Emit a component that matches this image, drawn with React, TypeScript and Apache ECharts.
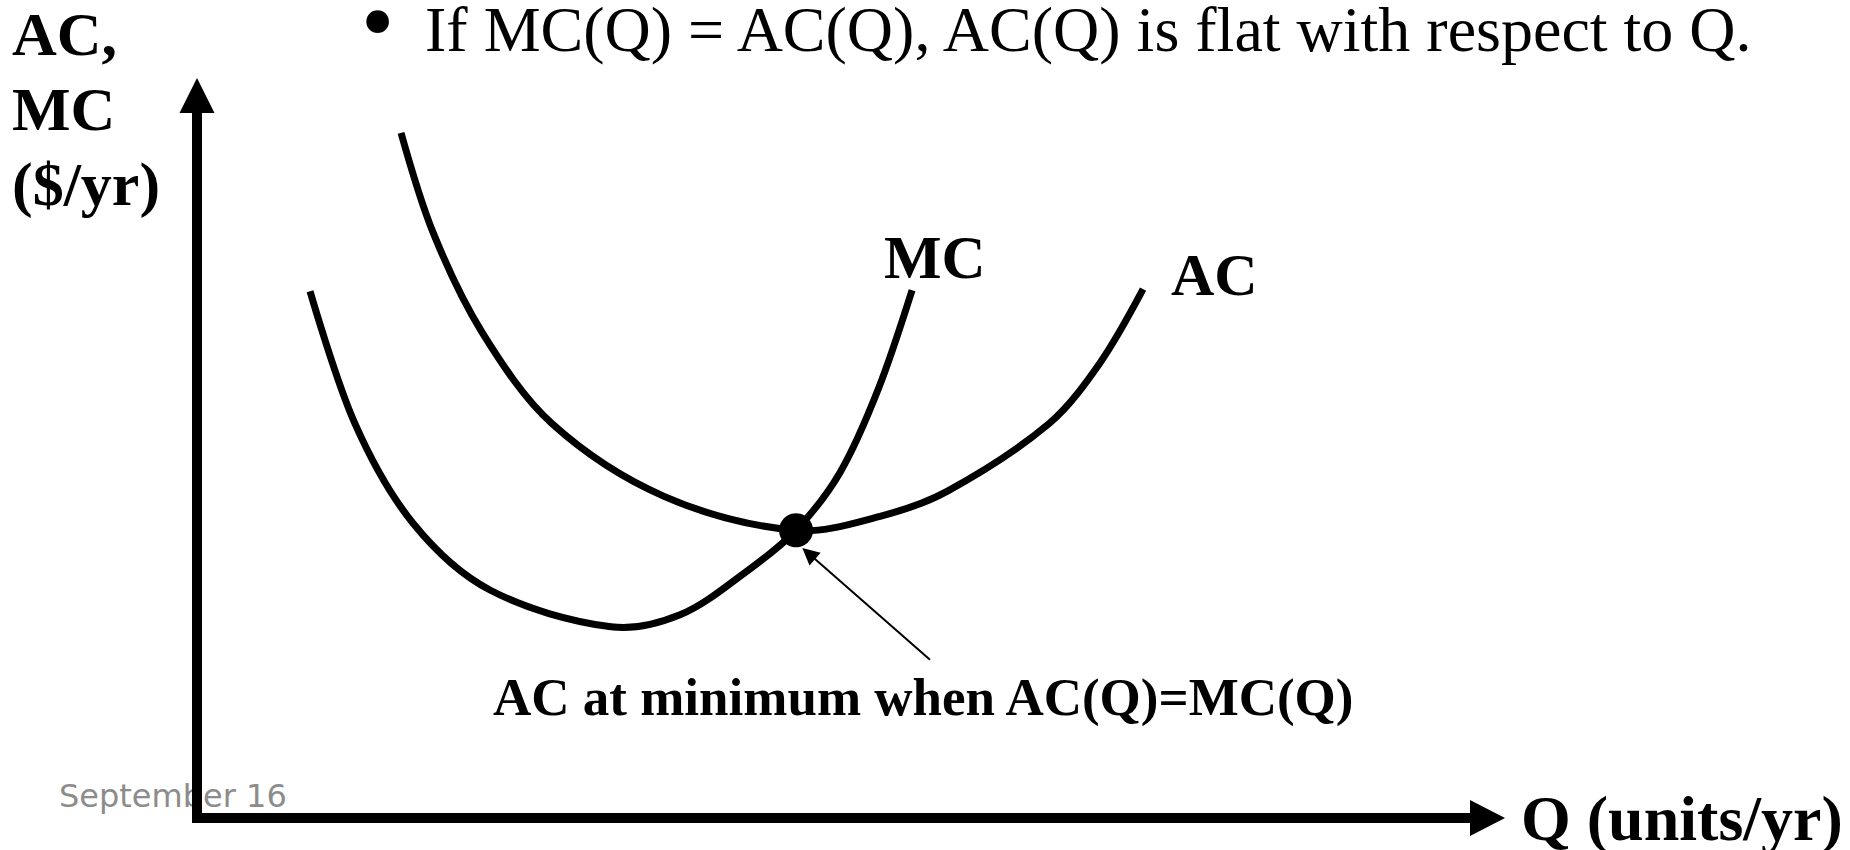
import React, { useEffect, useRef } from "react";
import * as echarts from "echarts";

// Marginal cost curve (Q, $/yr)
const mcQ = [8.76, 12.24, 16.74, 22.7, 32.08, 37.43, 42.62, 46.42, 49.83, 52.77, 55.41];
const mcCost = [72.91, 54.58, 40.8, 31.56, 26.46, 28.12, 34.18, 39.83, 47.83, 59.27, 73.05];

// Average cost curve
const acQ = [15.81, 18.29, 22.08, 27.51, 36.19, 46.42, 52.93, 58.12, 66.02, 69.97, 73.31];
const acCost = [94.83, 81.05, 67.26, 54.58, 44.52, 39.8, 41.76, 45.21, 54.58, 62.99, 73.19];

// Point where AC = MC, and the pointer to it
const equalPoint = [46.42, 39.83];
const pointerFrom = [56.8, 21.9];
const pointerTo = [47.4, 36.6];

// Texts
const titleText = "If MC(Q) = AC(Q), AC(Q) is flat with respect to Q.";
const bulletText = "\u2022";
const yAxisTitle = "AC,\nMC\n($/yr)";
const xAxisTitle = "Q (units/yr)";
const mcLabel = "MC";
const acLabel = "AC";
const noteText = "AC at minimum when AC(Q)=MC(Q)";
const footerText = "September 16";

const serif = "'Liberation Serif', 'Times New Roman', serif";

function curveSeries(name: string, qs: number[], costs: number[]) {
  const data = qs.map((q, i) => [q, costs[i]]);
  return {
    type: "custom",
    name,
    coordinateSystem: "cartesian2d",
    data,
    encode: { x: 0, y: 1 },
    silent: true,
    z: 3,
    renderItem: (params: any, api: any) => {
      if (params.dataIndex !== 0) return { type: "group", children: [] };
      const points = data.map((d) => api.coord(d));
      return {
        type: "polyline",
        shape: { points, smooth: 0.33, smoothConstraint: false },
        style: { stroke: "#000000", lineWidth: 7, fill: "none" },
        silent: true,
      };
    },
  };
}

export default function App() {
  const ref = useRef<HTMLDivElement>(null);

  useEffect(() => {
    const chart = echarts.init(ref.current as HTMLDivElement, null, { renderer: "svg" });

    const axisCommon = {
      type: "value",
      min: 0,
      max: 100,
      axisTick: { show: false },
      axisLabel: { show: false },
      splitLine: { show: false },
    };

    chart.setOption({
      animation: false,
      backgroundColor: "#ffffff",
      grid: { left: 197, right: 362.5, top: 95.5, bottom: 29 },
      xAxis: {
        ...axisCommon,
        axisLine: {
          show: true,
          onZero: false,
          symbol: ["none", "triangle"],
          symbolSize: [36, 35],
          lineStyle: { color: "#000000", width: 10, cap: "square" },
        },
        name: xAxisTitle,
        nameLocation: "end",
        nameGap: 33.5,
        nameTextStyle: {
          fontFamily: serif,
          fontWeight: "bold",
          fontSize: 64,
          color: "#000000",
          align: "left",
          verticalAlign: "middle",
          padding: [0, 0, 15, 0],
        },
      },
      yAxis: {
        ...axisCommon,
        axisLine: {
          show: true,
          onZero: false,
          symbol: ["none", "triangle"],
          symbolSize: [35, 35],
          lineStyle: { color: "#000000", width: 10, cap: "square" },
        },
      },
      series: [
        curveSeries("MC", mcQ, mcCost),
        curveSeries("AC", acQ, acCost),
        {
          type: "lines",
          coordinateSystem: "cartesian2d",
          data: [{ coords: [pointerFrom, pointerTo] }],
          symbol: ["none", "triangle"],
          symbolSize: [13, 17],
          silent: true,
          itemStyle: { color: "#000000" },
          lineStyle: { color: "#000000", width: 2, opacity: 1, curveness: 0 },
          z: 4,
        },
        {
          type: "scatter",
          data: [equalPoint],
          symbol: "circle",
          symbolSize: 34,
          silent: true,
          itemStyle: { color: "#000000", opacity: 1 },
          z: 5,
        },
      ],
      graphic: [
        {
          type: "text",
          x: 361,
          y: 21,
          style: { text: bulletText, font: `95px ${serif}`, fill: "#000000", align: "left", verticalAlign: "middle" },
        },
        {
          type: "text",
          x: 425,
          y: 29,
          style: { text: titleText, font: `64px ${serif}`, fill: "#000000", align: "left", verticalAlign: "middle" },
        },
        {
          type: "text",
          x: 12,
          y: -3.4,
          style: {
            text: yAxisTitle,
            font: `bold 62px ${serif}`,
            lineHeight: 75,
            fill: "#000000",
            align: "left",
            verticalAlign: "top",
          },
        },
        {
          type: "text",
          x: 884,
          y: 257.4,
          style: { text: mcLabel, font: `bold 61px ${serif}`, fill: "#000000", align: "left", verticalAlign: "middle" },
        },
        {
          type: "text",
          x: 1171,
          y: 274.8,
          style: { text: acLabel, font: `bold 60px ${serif}`, fill: "#000000", align: "left", verticalAlign: "middle" },
        },
        {
          type: "text",
          x: 493,
          y: 697.1,
          style: { text: noteText, font: `bold 53px ${serif}`, fill: "#000000", align: "left", verticalAlign: "middle" },
        },
        {
          type: "text",
          x: 59,
          y: 796,
          z: -10,
          style: {
            text: footerText,
            font: "32px 'DejaVu Sans', sans-serif",
            fill: "#8c8c8c",
            align: "left",
            verticalAlign: "middle",
          },
        },
      ],
    });

    return () => chart.dispose();
  }, []);

  return (
    <div
      ref={ref}
      style={{ position: "absolute", left: 0, top: 0, width: 1850, height: 850, background: "#ffffff" }}
    />
  );
}
